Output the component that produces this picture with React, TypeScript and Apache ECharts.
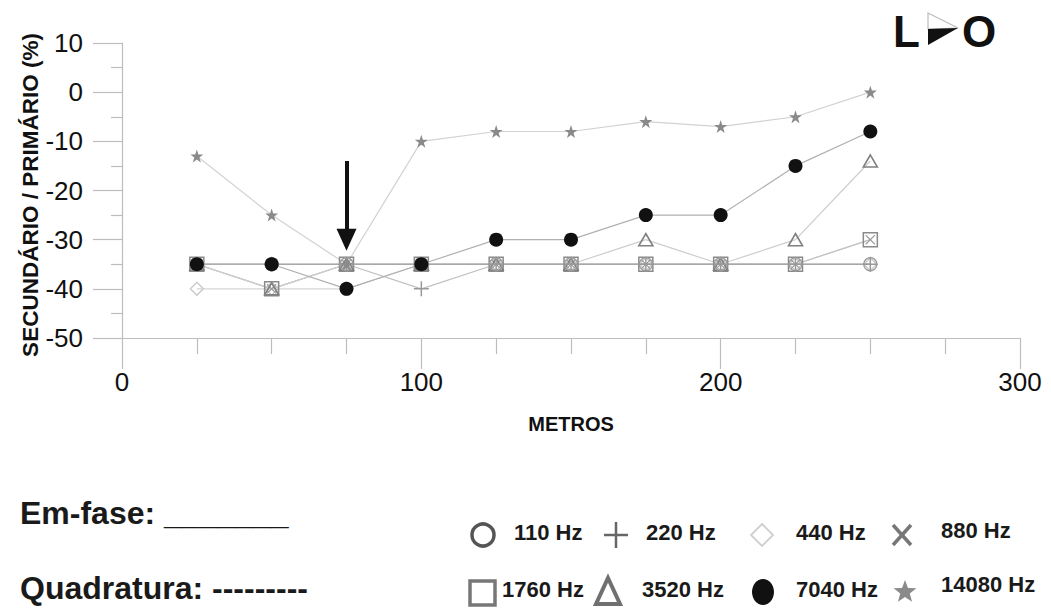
import React, { useEffect, useRef } from "react";
import * as echarts from "echarts";

const METROS = [25, 50, 75, 100, 125, 150, 175, 200, 225, 250];
const HZ110 = [-35, -35, -35, -35, -35, -35, -35, -35, -35, -35];
const HZ220 = [-35, -35, -35, -40, -35, -35, -35, -35, -35, -35];
const HZ440 = [-40, -40, -40, -35, -35, -35, -35, -35, -35, -35];
const HZ880 = [-35, -40, -35, -35, -35, -35, -35, -35, -35, -30];
const HZ1760 = [-35, -40, -35, -35, -35, -35, -35, -35, -35, -30];
const HZ3520 = [-35, -40, -35, -35, -35, -35, -30, -35, -30, -14];
const HZ7040 = [-35, -35, -40, -35, -30, -30, -25, -25, -15, -8];
const HZ14080 = [-13, -25, -35, -10, -8, -8, -6, -7, -5, 0];

const LEGEND_ROW1 = ["110 Hz", "220 Hz", "440 Hz", "880 Hz"];
const LEGEND_ROW2 = ["1760 Hz", "3520 Hz", "7040 Hz", "14080 Hz"];
const ARROW_AT = 75;
const ARROW_FROM = -14;
const ARROW_TO = -30;

const FONT = "'Liberation Sans', Arial, Helvetica, sans-serif";

const STAR =
  "path://M50,0L61.8,35.1L98.9,35.1L68.9,56.9L80.3,92.1L50,70.4L19.7,92.1L31.1,56.9L1.1,35.1L38.2,35.1Z";
const PLUS = "path://M45,0H55V45H100V55H55V100H45V55H0V45H45Z";
const CROSS =
  "path://M8,0L50,42L92,0L100,8L58,50L100,92L92,100L50,58L8,100L0,92L42,50L0,8Z";

function pairs(vals: number[]) {
  return METROS.map((m, i) => [m, vals[i]]);
}

function starPoints(cx: number, cy: number, R: number, r: number) {
  const pts: number[][] = [];
  for (let i = 0; i < 10; i++) {
    const a = -Math.PI / 2 + (i * Math.PI) / 5;
    const rad = i % 2 === 0 ? R : r;
    pts.push([cx + rad * Math.cos(a), cy + rad * Math.sin(a)]);
  }
  return pts;
}

export default function App() {
  const ref = useRef<HTMLDivElement>(null);
  useEffect(() => {
    document.body.style.margin = "0";
    const chart = echarts.init(ref.current!, null, { renderer: "svg" });
    const hollow = "rgba(255,255,255,0)";
    const lineW = 1.2;

    const series: any[] = [
      {
        name: "440 Hz",
        data: pairs(HZ440),
        symbol: "diamond",
        symbolSize: 13,
        itemStyle: { color: hollow, borderColor: "#c8c8c8", borderWidth: 1.3 },
        lineStyle: { color: "#d6d6d6", width: lineW },
      },
      {
        name: "880 Hz",
        data: pairs(HZ880),
        symbol: CROSS,
        symbolSize: 10,
        itemStyle: { color: "#999" },
        lineStyle: { color: "#cfcfcf", width: lineW },
      },
      {
        name: "1760 Hz",
        data: pairs(HZ1760),
        symbol: "rect",
        symbolSize: 14,
        itemStyle: { color: hollow, borderColor: "#8a8a8a", borderWidth: 1.5 },
        lineStyle: { color: "#c4c4c4", width: lineW },
      },
      {
        name: "3520 Hz",
        data: pairs(HZ3520),
        symbol: "triangle",
        symbolSize: [14, 12],
        itemStyle: { color: hollow, borderColor: "#808080", borderWidth: 1.6 },
        lineStyle: { color: "#cdcdcd", width: lineW },
      },
      {
        name: "220 Hz",
        data: pairs(HZ220),
        symbol: PLUS,
        symbolSize: 15,
        itemStyle: { color: "#999" },
        lineStyle: { color: "#c0c0c0", width: lineW },
      },
      {
        name: "110 Hz",
        data: pairs(HZ110),
        symbol: "circle",
        symbolSize: 13,
        itemStyle: { color: hollow, borderColor: "#999", borderWidth: 1.2 },
        lineStyle: { color: "#a8a8a8", width: 1.6 },
      },
      {
        name: "14080 Hz",
        data: pairs(HZ14080),
        symbol: STAR,
        symbolSize: 13,
        itemStyle: { color: "#8a8a8a" },
        lineStyle: { color: "#d2d2d2", width: lineW },
      },
      {
        name: "7040 Hz",
        data: pairs(HZ7040),
        symbol: "circle",
        symbolSize: 14,
        itemStyle: { color: "#111" },
        lineStyle: { color: "#b0b0b0", width: lineW },
        markLine: {
          silent: true,
          symbol: ["none", "triangle"],
          symbolSize: [20, 22],
          label: { show: false },
          lineStyle: { color: "#111", width: 4, type: "solid" },
          itemStyle: { color: "#111" },
          emphasis: { disabled: true },
          data: [[{ coord: [ARROW_AT, ARROW_FROM] }, { coord: [ARROW_AT, ARROW_TO] }]],
        },
      },
    ].map((s) => ({ ...s, type: "line", showSymbol: true, z: 3 }));

    const legendText = (t: string, x: number, y: number) => ({
      type: "text",
      left: x,
      top: y - 14,
      style: { text: t, font: `bold 22px ${FONT}`, fill: "#1a1a1a" },
    });

    const r1 = 535;
    const r2 = 592;
    const graphic: any[] = [
      // direction marker
      { type: "text", left: 893, top: 9, style: { text: "L", font: `bold 44px ${FONT}`, fill: "#111" } },
      { type: "text", left: 962, top: 9, style: { text: "O", font: `bold 44px ${FONT}`, fill: "#111" } },
      {
        type: "polygon",
        shape: { points: [[928, 13], [958, 28], [928, 29]] },
        style: { fill: "#fff", stroke: "#bbb", lineWidth: 1.2 },
      },
      {
        type: "polygon",
        shape: { points: [[928, 29], [958, 28], [928, 45]] },
        style: { fill: "#111" },
      },
      // y axis title
      {
        type: "text",
        x: 30,
        y: 195,
        rotation: Math.PI / 2,
        style: {
          text: "SECUNDÁRIO / PRIMÁRIO (%)",
          font: `bold 22.5px ${FONT}`,
          fill: "#111",
          align: "center",
          verticalAlign: "middle",
        },
      },
      // left legend
      { type: "text", left: 20, top: 497, style: { text: "Em-fase: _______", font: `bold 32px ${FONT}`, fill: "#1a1a1a" } },
      {
        type: "text",
        left: 20,
        top: 572,
        style: { text: "Quadratura: ---------", font: `bold 32px ${FONT}`, fill: "#1a1a1a" },
      },
      // row 1 symbols
      { type: "circle", shape: { cx: 483, cy: r1, r: 11 }, style: { fill: "none", stroke: "#555", lineWidth: 3.5 } },
      legendText(LEGEND_ROW1[0], 514, r1),
      { type: "line", shape: { x1: 604, y1: r1, x2: 628, y2: r1 }, style: { stroke: "#666", lineWidth: 2.5 } },
      { type: "line", shape: { x1: 616, y1: r1 - 13, x2: 616, y2: r1 + 13 }, style: { stroke: "#666", lineWidth: 2.5 } },
      legendText(LEGEND_ROW1[1], 646, r1),
      {
        type: "polygon",
        shape: { points: [[762, r1 - 11], [773, r1], [762, r1 + 11], [751, r1]] },
        style: { fill: "none", stroke: "#cfcfcf", lineWidth: 1.8 },
      },
      legendText(LEGEND_ROW1[2], 796, r1),
      { type: "line", shape: { x1: 893, y1: r1 - 10, x2: 911, y2: r1 + 10 }, style: { stroke: "#777", lineWidth: 3.5 } },
      { type: "line", shape: { x1: 911, y1: r1 - 10, x2: 893, y2: r1 + 10 }, style: { stroke: "#777", lineWidth: 3.5 } },
      legendText(LEGEND_ROW1[3], 941, r1 - 2),
      // row 2 symbols
      { type: "rect", shape: { x: 470, y: r2 - 11, width: 25, height: 24 }, style: { fill: "none", stroke: "#777", lineWidth: 3.5 } },
      legendText(LEGEND_ROW2[0], 502, r2),
      {
        type: "polygon",
        shape: { points: [[608, r2 - 14], [620, r2 + 12], [596, r2 + 12]] },
        style: { fill: "none", stroke: "#707070", lineWidth: 4 },
      },
      legendText(LEGEND_ROW2[1], 642, r2),
      { type: "ellipse", shape: { cx: 763, cy: r2, rx: 11, ry: 13 }, style: { fill: "#111" } },
      legendText(LEGEND_ROW2[2], 796, r2),
      { type: "polygon", shape: { points: starPoints(905, r2, 12, 5) }, style: { fill: "#8a8a8a" } },
      legendText(LEGEND_ROW2[3], 941, r2 - 5),
    ];

    chart.setOption({
      animation: false,
      backgroundColor: "#fff",
      textStyle: { fontFamily: FONT },
      grid: { left: 122, right: 31, top: 43, bottom: 270, containLabel: false },
      xAxis: {
        type: "value",
        min: 0,
        max: 300,
        interval: 100,
        name: "METROS",
        nameLocation: "middle",
        nameGap: 76,
        nameTextStyle: { fontFamily: FONT, fontWeight: "bold", fontSize: 20, color: "#111" },
        axisLine: { onZero: false, lineStyle: { color: "#bdbdbd", width: 1.2 } },
        axisTick: { show: true, length: 31, lineStyle: { color: "#bdbdbd", width: 1.2 } },
        minorTick: { show: true, splitNumber: 4, length: 16, lineStyle: { color: "#bdbdbd", width: 1.2 } },
        splitLine: { show: false },
        axisLabel: { fontSize: 26, color: "#111", margin: 31, fontFamily: FONT },
      },
      yAxis: {
        type: "value",
        min: -50,
        max: 10,
        interval: 10,
        axisLine: { show: true, lineStyle: { color: "#bdbdbd", width: 1.2 } },
        axisTick: { show: true, length: 29, lineStyle: { color: "#bdbdbd", width: 1.2 } },
        minorTick: { show: true, splitNumber: 2, length: 11, lineStyle: { color: "#bdbdbd", width: 1.2 } },
        splitLine: { show: false },
        axisLabel: { fontSize: 26, color: "#111", margin: 39, fontFamily: FONT },
      },
      series,
      graphic,
    });
    return () => chart.dispose();
  }, []);
  return <div ref={ref} style={{ width: 1051, height: 608 }} />;
}
